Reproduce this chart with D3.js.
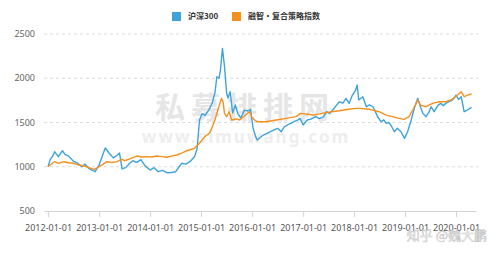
<!DOCTYPE html>
<html>
<head>
<meta charset="utf-8">
<script src="https://cdn.jsdelivr.net/npm/d3@7"></script>
<style>
  html, body { margin: 0; padding: 0; background: #fff; }
  svg { display: block; font-family: "Noto Sans", "Noto Sans CJK SC", sans-serif; }
</style>
</head>
<body>
<svg id="chart" width="499" height="254"></svg>
<script>
// 沪深300 (normalised to 1000 at 2012-01-01)
const hsDates = [
  "2012-01-01","2012-01-16","2012-02-03","2012-02-17","2012-03-15","2012-04-13","2012-05-01","2012-05-27",
  "2012-07-03","2012-08-01","2012-08-30","2012-09-21","2012-10-20","2012-12-03",
  "2013-01-01","2013-01-30","2013-02-14","2013-03-15","2013-04-13","2013-05-09","2013-05-27","2013-06-14",
  "2013-07-10","2013-08-08","2013-08-30","2013-09-28","2013-10-27","2013-11-26",
  "2014-01-01","2014-01-30","2014-02-28","2014-03-30","2014-05-01","2014-06-03","2014-07-03","2014-07-28",
  "2014-08-15","2014-09-14","2014-10-13","2014-11-15","2014-12-03","2014-12-21",
  "2015-01-08","2015-01-30","2015-02-25","2015-03-22","2015-04-10","2015-04-24","2015-05-09","2015-05-20",
  "2015-06-03","2015-06-18","2015-07-03","2015-07-13","2015-07-28","2015-08-15","2015-09-03","2015-09-21",
  "2015-10-13","2015-11-07","2015-12-03","2015-12-21",
  "2016-01-08","2016-01-27","2016-02-07","2016-02-28","2016-03-22","2016-04-21","2016-05-12","2016-06-11",
  "2016-07-03","2016-07-28","2016-08-19","2016-09-10","2016-10-05","2016-10-27","2016-11-26","2016-12-10",
  "2017-01-01","2017-01-30","2017-02-28","2017-04-02","2017-04-28","2017-05-27","2017-06-18","2017-07-10",
  "2017-08-01","2017-08-26","2017-09-17","2017-10-13","2017-11-04","2017-11-26","2017-12-17",
  "2018-01-12","2018-01-23","2018-02-03","2018-03-04","2018-03-30","2018-04-21","2018-05-16","2018-06-03",
  "2018-06-18","2018-07-13","2018-08-01","2018-08-19","2018-09-06","2018-09-21","2018-10-16","2018-11-07",
  "2018-12-03","2018-12-28",
  "2019-01-19","2019-02-14","2019-03-08","2019-04-02","2019-04-21","2019-05-09","2019-05-31","2019-06-22",
  "2019-07-06","2019-07-28","2019-08-26","2019-09-14","2019-10-02","2019-10-20","2019-11-11","2019-12-03",
  "2019-12-17",
  "2020-01-01","2020-01-19","2020-02-07","2020-02-28","2020-03-22","2020-04-10","2020-04-21"
];
const hsValues = [
  1000,1080,1120,1170,1114,1181,1140,1120,
  1060,1040,1000,1030,980,944,
  1020,1150,1212,1150,1100,1130,1155,975,
  990,1040,1068,1050,1080,1010,
  963,990,944,960,933,935,944,1000,
  1039,1030,1057,1114,1200,1528,
  1600,1580,1640,1720,1833,2017,2000,2093,
  2338,2130,1830,1777,1848,1607,1698,1600,
  1551,1640,1630,1650,
  1438,1340,1302,1330,1358,1380,1396,1420,
  1434,1396,1450,1472,1490,1509,1530,1547,
  1472,1528,1540,1566,1545,1566,1622,1600,
  1641,1690,1734,1720,1772,1716,1800,
  1867,1924,1754,1791,1678,1700,1678,1620,
  1565,1509,1530,1490,1500,1472,1396,1434,
  1396,1321,
  1396,1528,1660,1773,1678,1603,1565,1620,
  1678,1622,1697,1716,1690,1716,1735,1750,
  1773,
  1810,1760,1791,1622,1641,1660,1670
];

// 融智•复合策略指数
const rzDates = [
  "2012-01-01","2012-01-23","2012-02-17","2012-03-15","2012-04-21","2012-05-27","2012-07-03","2012-08-08",
  "2012-09-14","2012-10-20","2012-11-26",
  "2013-01-01","2013-01-30","2013-02-25","2013-04-02","2013-05-09","2013-06-14","2013-07-03","2013-08-08",
  "2013-09-28","2013-11-04","2013-12-06",
  "2014-01-12","2014-02-17","2014-03-26","2014-05-01","2014-06-03","2014-07-10","2014-08-15","2014-09-21",
  "2014-10-20","2014-11-15","2014-12-21",
  "2015-01-27","2015-03-04","2015-03-22","2015-04-10","2015-05-01","2015-05-27","2015-06-07","2015-06-18",
  "2015-07-03","2015-07-21","2015-08-08","2015-09-14","2015-10-05","2015-11-15","2015-12-14",
  "2016-01-01","2016-01-19","2016-02-07","2016-04-10","2016-06-22","2016-09-03","2016-11-11","2016-12-14",
  "2017-03-15","2017-05-20","2017-07-21","2017-09-17","2017-11-26",
  "2018-01-12","2018-02-07","2018-04-21","2018-06-29","2018-08-19","2018-10-02","2018-11-18","2018-12-25",
  "2019-01-30","2019-02-25","2019-04-02","2019-04-21","2019-05-31","2019-07-17","2019-09-03","2019-10-20",
  "2019-11-26",
  "2020-01-12","2020-02-07","2020-02-28","2020-03-22","2020-04-21"
];
const rzValues = [
  1000,1030,1057,1039,1057,1045,1039,1020,
  1008,990,970,
  1000,1030,1057,1050,1057,1084,1068,1090,
  1121,1110,1114,
  1110,1121,1115,1107,1120,1133,1155,1181,
  1195,1208,1265,
  1340,1381,1450,1528,1641,1773,1735,1603,
  1565,1622,1528,1540,1528,1584,1622,
  1560,1528,1509,1509,1528,1547,1566,1603,
  1584,1603,1622,1633,1649,
  1660,1660,1649,1622,1584,1566,1547,1536,
  1566,1641,1754,1697,1678,1716,1735,1735,
  1754,
  1810,1848,1791,1810,1822
];

const yTicks = [500, 1000, 1500, 2000, 2500];
const legendItems = ["沪深300", "融智•复合策略指数"];
const colors = ["#3ea3dd", "#f5901d"];

const parse = d3.timeParse("%Y-%m-%d");
const series = [
  hsDates.map((d, i) => ({ date: parse(d), value: hsValues[i] })),
  rzDates.map((d, i) => ({ date: parse(d), value: rzValues[i] }))
];

const svg = d3.select("#chart");

const x = d3.scaleTime()
  .domain([new Date(2011, 11, 3), new Date(2020, 4, 23)])
  .range([44, 476]);
const y = d3.scaleLinear()
  .domain([500, 2500])
  .range([211, 34]);

// watermark
const wm = svg.append("g").attr("pointer-events", "none");
wm.append("text")
  .attr("x", 245).attr("y", 118)
  .attr("text-anchor", "middle")
  .style("font-family", "'Noto Sans CJK SC', sans-serif")
  .style("font-size", "30px").style("font-weight", "bold")
  .style("letter-spacing", "6px")
  .style("fill", "#e6e6e6")
  .text("私募排排网");
wm.append("text")
  .attr("x", 246).attr("y", 143)
  .attr("text-anchor", "middle")
  .style("font-size", "17px").style("font-weight", "bold")
  .style("letter-spacing", "2px")
  .style("fill", "#eeeeee")
  .text("www.simuwang.com");

// grid
svg.append("g")
  .selectAll("line")
  .data(yTicks.filter(t => t > 500))
  .enter()
  .append("line")
    .attr("x1", 44).attr("x2", 478)
    .attr("y1", d => y(d)).attr("y2", d => y(d))
    .attr("stroke", "#dcdcdc")
    .style("stroke-dasharray", "3, 3");

// y labels
svg.append("g")
  .selectAll("text")
  .data(yTicks)
  .enter()
  .append("text")
    .attr("x", 35)
    .attr("y", d => y(d))
    .attr("dy", "0.35em")
    .attr("text-anchor", "end")
    .style("font-size", "9px")
    .style("fill", "#666")
    .text(d => d);

// x axis
const xAxis = d3.axisBottom(x)
  .ticks(d3.timeYear.every(1))
  .tickFormat(d3.timeFormat("%Y-%m-%d"))
  .tickSizeInner(6)
  .tickSizeOuter(0)
  .tickPadding(8);
const gx = svg.append("g")
  .attr("transform", `translate(0,${y(500)})`)
  .call(xAxis);
gx.select(".domain").attr("stroke", "#d4d4d4");
gx.selectAll(".tick line").attr("stroke", "#d4d4d4");
gx.selectAll(".tick text")
  .style("font-family", "'Noto Sans', sans-serif")
  .style("font-size", "9px")
  .style("fill", "#555");

// lines
const line = d3.line()
  .x(d => x(d.date))
  .y(d => y(d.value));

[0, 1].forEach(i => {
  svg.append("path")
    .datum(series[i])
    .attr("d", line)
    .attr("fill", "none")
    .attr("stroke", colors[i])
    .attr("stroke-width", 1.4)
    .attr("stroke-linejoin", "round");
});

// legend
const legendX = [172, 232];
const lg = svg.append("g");
legendItems.forEach((name, i) => {
  lg.append("rect")
    .attr("x", legendX[i]).attr("y", 12)
    .attr("width", 9).attr("height", 9)
    .attr("fill", colors[i]);
  lg.append("text")
    .attr("x", legendX[i] + 16).attr("y", 16.5)
    .attr("dy", "0.35em")
    .style("font-family", "'Noto Sans CJK SC', sans-serif")
    .style("font-size", "8px")
    .style("font-weight", "bold")
    .style("fill", "#333")
    .text(name);
});

// zhihu watermark
svg.append("text")
  .attr("x", 487).attr("y", 240)
  .attr("text-anchor", "end")
  .style("font-family", "'Noto Sans CJK SC', sans-serif")
  .style("font-size", "13px")
  .style("fill", "rgba(255,255,255,0.9)")
  .style("stroke", "rgba(150,150,150,0.55)")
  .style("stroke-width", 0.6)
  .text("知乎 @魏大鹏");
</script>
</body>
</html>
